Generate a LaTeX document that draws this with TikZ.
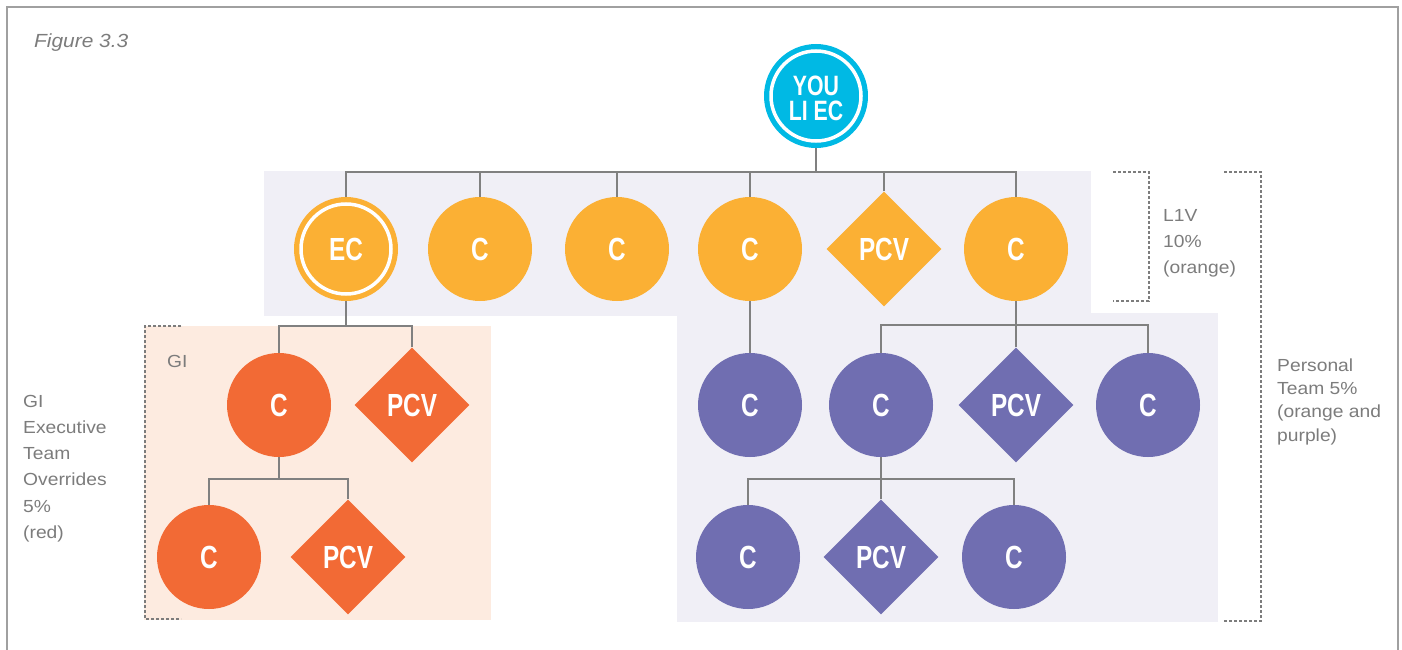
\documentclass[tikz,border=0pt]{standalone}
\usepackage{fontspec}
\setmainfont{Liberation Sans}[FakeStretch=1.1]
\newfontfamily\nodefont{Liberation Sans}[FakeStretch=0.76]
\usetikzlibrary{shapes.geometric}

\definecolor{youblue}{HTML}{00B9E4}
\definecolor{lvlorange}{HTML}{FBB034}
\definecolor{lvlred}{HTML}{F26A35}
\definecolor{lvlpurple}{HTML}{706EB1}
\definecolor{bandgrey}{HTML}{F0EFF6}
\definecolor{peach}{HTML}{FDEBE0}
\definecolor{linkgrey}{HTML}{808080}
\definecolor{labelgrey}{HTML}{7C7C7C}
\definecolor{framegrey}{HTML}{A0A0A0}

\tikzset{
  member/.style={circle, minimum size=104pt, inner sep=0pt, text=white,
    font=\nodefont\bfseries\fontsize{32}{32}\selectfont},
  partner/.style={diamond, minimum width=115pt, minimum height=115pt, inner sep=0pt,
    text=white, font=\nodefont\bfseries\fontsize{32}{32}\selectfont},
  ringed/.style={path picture={\draw[white, line width=3.5pt]
    (path picture bounding box.center) circle[radius=45pt];}},
  link/.style={draw=linkgrey, line width=2pt},
  bracket/.style={draw=labelgrey, line width=1.2pt, dash pattern=on 3pt off 2pt},
  note/.style={text=labelgrey, inner sep=0pt, anchor=base west, align=left}
}

\begin{document}
\begin{tikzpicture}[x=1pt, y=-1pt]
\useasboundingbox (0,0) rectangle (1402,650);

% outer frame (open at the bottom)
\draw[framegrey, line width=2pt] (7,650) -- (7,7) -- (1398,7) -- (1398,650);

\node[text=labelgrey, inner sep=0pt, anchor=base west,
  font=\itshape\fontsize{19}{24}\selectfont] (fig) at (34,48) {Figure 3.3};

% shaded group areas
\fill[bandgrey] (264,171) rectangle (1091,316);
\fill[bandgrey] (677,313) rectangle (1218,622);
\fill[peach] (144,326) rectangle (491,620);

% bus points
\coordinate (bus1) at (816,172);
\coordinate (bus2) at (1016,325);
\coordinate (bus3) at (881,479);
\coordinate (bus4) at (346,326);
\coordinate (bus5) at (279,479);

% top node and its two-line caption
\node[member, fill=youblue, ringed] (you) at (816,96) {};
\node[text=white, inner sep=0pt, align=center,
  font=\nodefont\bfseries\fontsize{28}{25.5}\selectfont] (youtext)
  at ([yshift=-2.5pt]you.center) {YOU\\LI EC};

% first level
\node[member, fill=lvlorange, ringed] (ec) at (346,249) {EC};
\node[member, fill=lvlorange] (c2) at (480,249) {C};
\node[member, fill=lvlorange] (c3) at (617,249) {C};
\node[member, fill=lvlorange] (c4) at (750,249) {C};
\node[partner, fill=lvlorange] (c5) at (884,249) {PCV};
\node[member, fill=lvlorange] (c6) at (1016,249) {C};

% red branch
\node[member, fill=lvlred] (r1) at (279,405) {C};
\node[partner, fill=lvlred] (r2) at (412,405) {PCV};
\node[member, fill=lvlred] (r3) at (209,557) {C};
\node[partner, fill=lvlred] (r4) at (348,557) {PCV};

% purple branch
\node[member, fill=lvlpurple] (p1) at (750,405) {C};
\node[member, fill=lvlpurple] (p2) at (881,405) {C};
\node[partner, fill=lvlpurple] (p3) at (1016,405) {PCV};
\node[member, fill=lvlpurple] (p4) at (1148,405) {C};
\node[member, fill=lvlpurple] (q1) at (748,557) {C};
\node[partner, fill=lvlpurple] (q2) at (881,557) {PCV};
\node[member, fill=lvlpurple] (q3) at (1014,557) {C};

% connectors
\draw[link] (you.south) -- (bus1);
\foreach \n in {ec,c2,c3,c4,c5,c6} \draw[link] (\n.north) |- (bus1);
\draw[link] (ec.south) -- (bus4);
\foreach \n in {r1,r2} \draw[link] (\n.north) |- (bus4);
\draw[link] (r1.south) -- (bus5);
\foreach \n in {r3,r4} \draw[link] (\n.north) |- (bus5);
\draw[link] (c4.south) -- (p1.north);
\draw[link] (c6.south) -- (bus2);
\foreach \n in {p2,p3,p4} \draw[link] (\n.north) |- (bus2);
\draw[link] (p2.south) -- (bus3);
\foreach \n in {q1,q2,q3} \draw[link] (\n.north) |- (bus3);

% brackets
\draw[bracket] (181,326) -- (145,326) -- (145,619) -- (181,619);
\draw[bracket] (1113,172) -- (1149,172) -- (1149,301) -- (1113,301);
\draw[bracket] (1224,172) -- (1261,172) -- (1261,621) -- (1224,621);

% annotations (multi-line notes are anchored at their last baseline)
\node[note, font=\fontsize{17.5}{24}\selectfont] (gi) at (167,367) {GI};
\node[note, font=\fontsize{17.5}{26.3}\selectfont] (giteam) at (23,538.5)
  {GI\\Executive\\Team\\Overrides\\5\%\\(red)};
\node[note, font=\fontsize{17.5}{26}\selectfont] (l1v) at (1163,273)
  {L1V\\10\%\\(orange)};
\node[note, font=\fontsize{17.5}{23.3}\selectfont] (team) at (1277,441)
  {Personal\\Team 5\%\\(orange and\\purple)};
\end{tikzpicture}
\end{document}
